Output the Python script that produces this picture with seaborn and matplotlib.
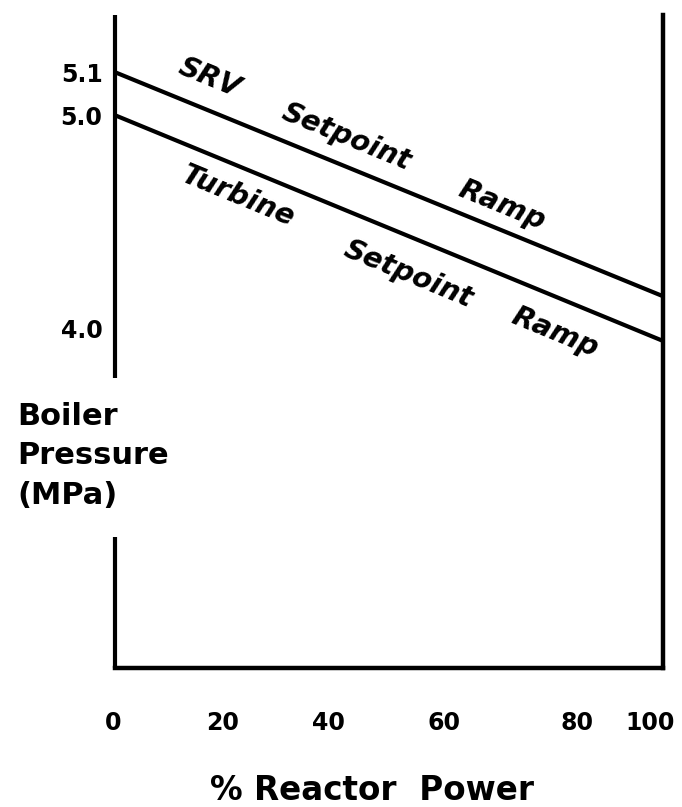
# Boiler pressure setpoint ramps vs reactor power (schematic, not to scale)
import matplotlib
matplotlib.use("Agg")
import matplotlib.pyplot as plt
from matplotlib.transforms import ScaledTranslation
import numpy as np
import pandas as pd
import seaborn as sns

power = [0, 100]
srv_setpoint = [5.1, 4.15]
turbine_setpoint = [5.0, 3.94]

x_ticks = [0, 20, 40, 60, 80, 100]
y_ticks = [5.1, 5.0, 4.0]
y_ticklabels = ["5.1", "5.0", "4.0"]

srv_words = ["SRV", "Setpoint", "Ramp"]
srv_word_x = [17.3, 42.2, 70.6]
srv_word_dy = [33, 30, 25]
turbine_words = ["Turbine", "Setpoint", "Ramp"]
turbine_word_x = [22.4, 53.5, 80.3]
turbine_word_dy = [-31, -38, -36]

sns.set_theme(style="white")
plt.rcParams["font.family"] = ["DejaVu Sans"]
plt.rcParams["font.weight"] = "bold"

# the drawing stretches the 5.0 - 5.1 band
STRETCH = 2.02


def fwd(v):
    v = np.asarray(v, dtype=float)
    return np.where(v <= 5.0, v, 5.0 + (v - 5.0) * STRETCH)


def inv(t):
    t = np.asarray(t, dtype=float)
    return np.where(t <= 5.0, t, 5.0 + (t - 5.0) / STRETCH)


W, H = 682, 807
fig = plt.figure(figsize=(W / 100, H / 100), dpi=100)
ax = fig.add_axes([115 / W, 1 - 668 / H, 548 / W, 653 / H])

df = pd.DataFrame({
    "power": power * 2,
    "pressure": srv_setpoint + turbine_setpoint,
    "ramp": ["SRV"] * 2 + ["Turbine"] * 2,
})
sns.lineplot(data=df, x="power", y="pressure", hue="ramp",
             palette=["black", "black"], linewidth=3, legend=False, ax=ax)

ax.set_yscale("function", functions=(fwd, inv))
ylo, yhi = 2.404, 5.233
ax.set_xlim(0, 100)
ax.set_ylim(ylo, yhi)

for side in ["top", "left"]:
    ax.spines[side].set_visible(False)
for side in ["right", "bottom"]:
    ax.spines[side].set_color("black")
    ax.spines[side].set_linewidth(3.2)

# left axis is broken where the label sits
ax.vlines([0, 0], [ylo, 3.765], [3.02, yhi], color="black", linewidth=3, clip_on=False)

ax.set_xticks(x_ticks)
ax.set_xticklabels([str(v) for v in x_ticks])
ax.set_yticks(y_ticks)
ax.set_yticklabels(y_ticklabels)
ax.yaxis.set_minor_locator(matplotlib.ticker.NullLocator())
ax.tick_params(axis="x", length=0, pad=31, labelsize=17, colors="black")
ax.tick_params(axis="y", length=0, pad=9, labelsize=17, colors="black")

# hand-lettered tick labels sit a little off their ticks
nudge_px = [-2, -2, -6, 0, 24, -13]
for lab, dx in zip(ax.get_xticklabels(), nudge_px):
    lab.set_transform(lab.get_transform() + ScaledTranslation(dx / 100, 0, fig.dpi_scale_trans))

ax.set_xlabel("% Reactor  Power", fontsize=23.5, fontweight="bold", color="black")
ax.xaxis.label.set_va("center")
ax.xaxis.set_label_coords(0.469, -0.187)

ax.set_ylabel("Boiler\nPressure\n(MPa)", rotation=0, fontsize=22, fontweight="bold",
              color="black", ha="left", va="center", multialignment="left",
              linespacing=1.45)
ax.yaxis.set_label_coords(-0.179, 0.325)


def label_line(ys, words, xs, dys):
    p0 = ax.transData.transform((power[0], ys[0]))
    p1 = ax.transData.transform((power[1], ys[1]))
    angle = np.degrees(np.arctan2(p1[1] - p0[1], p1[0] - p0[0]))
    for word, x, dy in zip(words, xs, dys):
        f = (x - power[0]) / (power[1] - power[0])
        pt = p0 + f * (p1 - p0)
        ax.annotate(word, xy=pt, xycoords="figure pixels",
                    xytext=(0, dy), textcoords="offset pixels",
                    rotation=angle, rotation_mode="anchor", ha="center", va="center",
                    fontsize=20.5, fontweight="bold", fontstyle="oblique", color="black")


label_line(srv_setpoint, srv_words, srv_word_x, srv_word_dy)
label_line(turbine_setpoint, turbine_words, turbine_word_x, turbine_word_dy)

fig.savefig("out.png", dpi=100)
